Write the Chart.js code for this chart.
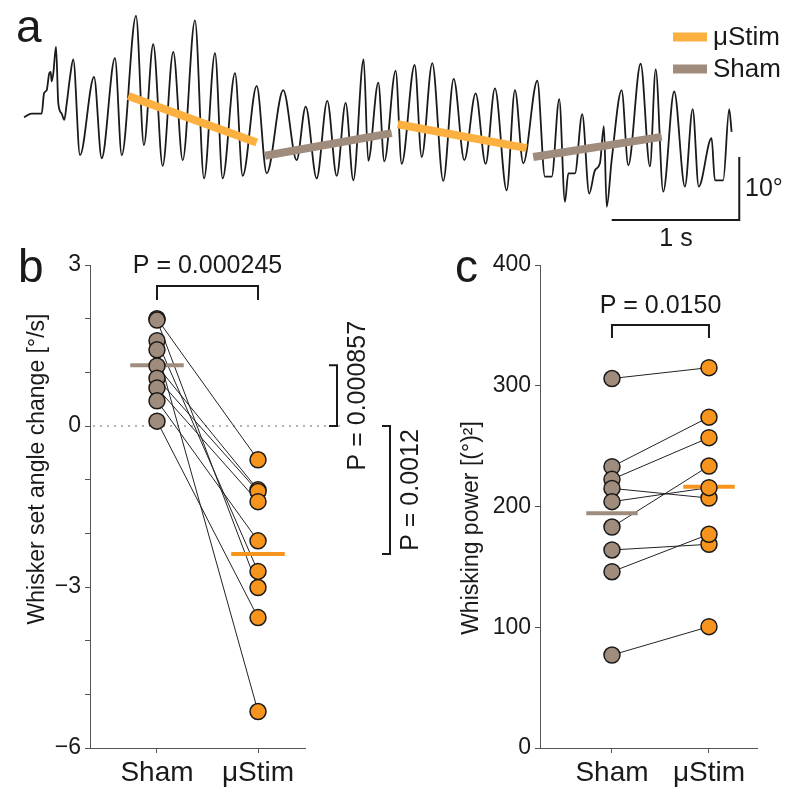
<!DOCTYPE html>
<html>
<head>
<meta charset="utf-8">
<script src="https://cdn.jsdelivr.net/npm/chart.js@4.4.1/dist/chart.umd.min.js"></script>
<style>
  html, body { margin: 0; padding: 0; background: #fff; }
  #wrap { position: relative; width: 800px; height: 802px; }
  canvas { position: absolute; left: 0; top: 0; }
</style>
</head>
<body>
<div id="wrap">
  <canvas id="traceChart" width="800" height="802"></canvas>
  <canvas id="setChart" width="800" height="802"></canvas>
  <canvas id="powerChart" width="800" height="802"></canvas>
</div>
<script>
// ===== Data =====

// Panel a: whisker angle trace (time in s, angle in deg), peaks and troughs
const traceTime = [0.000, 0.060, 0.139, 0.157, 0.178, 0.198, 0.209, 0.217, 0.230, 0.251,
  0.269, 0.295, 0.316, 0.335, 0.361, 0.386, 0.439, 0.549, 0.609, 0.713,
  0.766, 0.878, 0.940, 1.013, 1.087, 1.170, 1.244, 1.340, 1.411, 1.497,
  1.557, 1.654, 1.714, 1.824, 1.902, 2.032, 2.137, 2.208, 2.294, 2.377,
  2.451, 2.521, 2.581, 2.662, 2.698, 2.777, 2.824, 2.913, 2.960, 3.062,
  3.117, 3.200, 3.286, 3.368, 3.451, 3.540, 3.618, 3.691, 3.783, 3.848,
  3.913, 4.023, 4.083, 4.136, 4.195, 4.240, 4.266, 4.318, 4.375, 4.430,
  4.475, 4.514, 4.545, 4.567, 4.606, 4.684, 4.736, 4.833, 4.906, 4.951,
  5.010, 5.096, 5.180, 5.241, 5.288, 5.389, 5.415, 5.480, 5.527, 5.546];
const traceAngle = [16.3, 16.9, 16.9, 20.1, 20.6, 23.3, 23.5, 22.0, 23.3, 27.5,
  18.5, 16.9, 15.9, 18.5, 22.7, 25.5, 10.3, 22.7, 9.8, 25.7,
  10.3, 32.4, 11.9, 27.9, 8.6, 26.7, 9.5, 31.7, 6.6, 26.5,
  6.6, 23.3, 7.0, 21.3, 7.4, 20.6, 9.5, 18.0, 6.6, 18.9,
  7.0, 18.6, 6.3, 25.5, 9.4, 21.8, 9.3, 23.7, 8.9, 24.6,
  10.0, 24.9, 6.2, 22.4, 9.5, 20.1, 8.9, 20.9, 4.7, 20.6,
  9.0, 22.1, 6.9, 6.9, 19.2, 2.9, 7.4, 7.4, 16.8, 4.2,
  7.9, 9.0, 14.9, 2.1, 9.5, 20.6, 8.7, 24.8, 8.5, 23.9,
  4.5, 20.4, 5.3, 17.6, 5.3, 13.0, 6.3, 6.3, 17.6, 14.0];

// Panel a: set-angle fits per epoch [start, end]
const stimFitTime = [[0.817, 1.824], [2.929, 3.940]];
const stimFitAngle = [[19.7, 12.3], [15.2, 11.4]];
const shamFitTime = [[1.889, 2.882], [3.991, 4.998]];
const shamFitAngle = [[10.2, 13.8], [10.0, 13.2]];

// Panels b and c
const groups = ['Sham', 'μStim'];
const setSham = [2.00, 1.975, 1.59, 1.42, 1.12, 0.89, 0.71, 0.47, 0.09];
const setStim = [-0.63, -3.01, -2.71, -5.32, -1.19, -1.22, -1.41, -2.14, -3.57];
const setMean = [1.13, -2.385];
const setTicks = [-6, -3, 0, 3];

const powSham = [306, 233, 222.5, 215, 204, 183, 164, 146, 77];
const powStim = [315, 274, 257, 207, 215.6, 233.5, 168.7, 177, 100.5];
const powMean = [194.4, 216.4];
const powTicks = [0, 100, 200, 300, 400];

// ===== Style =====
const FONT = "'Liberation Sans', Arial, sans-serif";
const SHAM = '#a08c7c';
const STIM = '#f7941d';
const STIM_LIGHT = '#fbb040';
const INK = '#1a1a1a';

Chart.defaults.font.family = FONT;
Chart.defaults.color = INK;

function fitDataset(times, angles, color) {
    return {
        data: times.map((t, i) => ({ x: t, y: angles[i] })),
        showLine: true, borderColor: color, borderWidth: 8,
        borderCapStyle: 'butt', pointRadius: 0, order: 0
    };
}

// ===== Panel a =====
const traceExtras = {
    id: 'traceExtras',
    afterDraw(chart) {
        const ctx = chart.ctx;
        ctx.save();
        ctx.fillStyle = INK;
        ctx.font = `46px ${FONT}`;
        ctx.fillText('a', 16, 42);

        ctx.lineWidth = 9;
        ctx.strokeStyle = STIM_LIGHT;
        ctx.beginPath(); ctx.moveTo(673, 37); ctx.lineTo(707, 37); ctx.stroke();
        ctx.strokeStyle = SHAM;
        ctx.beginPath(); ctx.moveTo(673, 69); ctx.lineTo(707, 69); ctx.stroke();

        ctx.font = `26px ${FONT}`;
        ctx.textBaseline = 'middle';
        ctx.fillText('μStim', 713, 38);
        ctx.fillText('Sham', 713, 70);

        ctx.font = `25px ${FONT}`;
        ctx.fillText('10°', 745, 189);
        ctx.textAlign = 'center';
        ctx.fillText('1 s', 676, 239);
        ctx.restore();
    }
};

new Chart(document.getElementById('traceChart'), {
    type: 'scatter',
    data: {
        datasets: [
            fitDataset(stimFitTime[0], stimFitAngle[0], STIM_LIGHT),
            fitDataset(stimFitTime[1], stimFitAngle[1], STIM_LIGHT),
            fitDataset(shamFitTime[0], shamFitAngle[0], SHAM),
            fitDataset(shamFitTime[1], shamFitAngle[1], SHAM),
            {
                data: traceTime.map((t, i) => ({ x: t, y: traceAngle[i] })),
                showLine: true, borderColor: INK, borderWidth: 1.8,
                pointRadius: 0, cubicInterpolationMode: 'monotone', order: 1
            },
            {
                // scale bar: 1 s, 10 deg
                data: [{ x: 4.606, y: 0 }, { x: 5.606, y: 0 }, { x: 5.606, y: 10 }],
                showLine: true, borderColor: INK, borderWidth: 2,
                pointRadius: 0, order: 0
            }
        ]
    },
    options: {
        responsive: false,
        animation: false,
        layout: { padding: { bottom: 552 } },
        plugins: { legend: { display: false }, tooltip: { enabled: false } },
        scales: {
            x: { type: 'linear', display: false, min: -0.188, max: 6.082 },
            y: { display: false, min: -4.76, max: 34.92 }
        }
    },
    plugins: [traceExtras]
});

// ===== Paired scatter helper =====
function pairedDatasets(sham, stim, mean, halfWidth, lineColor) {
    const sets = [];
    sham.forEach((v, i) => {
        sets.push({
            data: [{ x: 0, y: v }, { x: 1, y: stim[i] }],
            showLine: true, borderColor: lineColor, borderWidth: 1,
            pointRadius: 0, order: 3
        });
    });
    sets.push({
        data: [{ x: -halfWidth, y: mean[0] }, { x: halfWidth, y: mean[0] }],
        showLine: true, borderColor: SHAM, borderWidth: 4, pointRadius: 0, order: 2
    });
    sets.push({
        data: [{ x: 1 - halfWidth, y: mean[1] }, { x: 1 + halfWidth, y: mean[1] }],
        showLine: true, borderColor: STIM, borderWidth: 4, pointRadius: 0, order: 2
    });
    sets.push({
        data: sham.map(v => ({ x: 0, y: v })),
        pointRadius: 8, pointBackgroundColor: SHAM, pointBorderColor: INK,
        pointBorderWidth: 1.5, order: 1
    });
    sets.push({
        data: stim.map(v => ({ x: 1, y: v })),
        pointRadius: 8, pointBackgroundColor: STIM, pointBorderColor: INK,
        pointBorderWidth: 1.5, order: 1
    });
    return sets;
}

function pairedOptions(opts) {
    return {
        responsive: false,
        animation: false,
        layout: { padding: { top: 265, right: opts.right, left: 0, bottom: 0 } },
        plugins: { legend: { display: false }, tooltip: { enabled: false } },
        scales: {
            x: {
                type: 'linear', min: opts.xMin, max: opts.xMax,
                afterBuildTicks: s => { s.ticks = [{ value: 0 }, { value: 1 }]; },
                afterFit: s => { s.height = 802 - 748; },
                ticks: { callback: v => groups[v], font: { size: 28 }, padding: 3, color: INK },
                grid: { drawOnChartArea: false, tickLength: 5, color: '#555' },
                border: { color: '#555', width: 1 }
            },
            y: {
                min: opts.yMin, max: opts.yMax,
                ticks: {
                    stepSize: opts.step, padding: 4, color: INK, font: { size: 23 },
                    autoSkip: false,
                    callback: v => opts.labels.includes(v) ? String(v).replace('-', '\u2212') : ''
                },
                afterFit: s => { s.width = opts.axisX; },
                grid: { drawOnChartArea: false, tickLength: 5, color: '#555' },
                border: { color: '#555', width: 1 }
            }
        }
    };
}

function bracketTop(ctx, x0, x1, yTop, yLeg, label, textY) {
    ctx.beginPath();
    ctx.moveTo(x0, yLeg); ctx.lineTo(x0, yTop); ctx.lineTo(x1, yTop); ctx.lineTo(x1, yLeg);
    ctx.stroke();
    ctx.textAlign = 'center';
    ctx.textBaseline = 'middle';
    ctx.fillText(label, (x0 + x1) / 2, textY);
}

function bracketSide(ctx, xLine, yA, yB, label, textX) {
    ctx.beginPath();
    ctx.moveTo(xLine - 8, yA); ctx.lineTo(xLine, yA); ctx.lineTo(xLine, yB); ctx.lineTo(xLine - 8, yB);
    ctx.stroke();
    ctx.save();
    ctx.translate(textX, (yA + yB) / 2);
    ctx.rotate(-Math.PI / 2);
    ctx.textAlign = 'center';
    ctx.textBaseline = 'middle';
    ctx.fillText(label, 0, 0);
    ctx.restore();
}

function rotatedTitle(ctx, text, cx, cy) {
    ctx.save();
    ctx.translate(cx, cy);
    ctx.rotate(-Math.PI / 2);
    ctx.textAlign = 'center';
    ctx.textBaseline = 'middle';
    ctx.fillText(text, 0, 0);
    ctx.restore();
}

// ===== Panel b =====
const setExtras = {
    id: 'setExtras',
    beforeDatasetsDraw(chart) {
        const { ctx, scales: { x, y } } = chart;
        const y0 = y.getPixelForValue(0);
        ctx.save();
        ctx.strokeStyle = '#9a9a9a';
        ctx.lineWidth = 1.5;
        ctx.setLineDash([2, 5]);
        ctx.beginPath(); ctx.moveTo(x.left + 3, y0); ctx.lineTo(345, y0); ctx.stroke();
        ctx.restore();
    },
    afterDraw(chart) {
        const { ctx, scales: { x, y } } = chart;
        ctx.save();
        ctx.fillStyle = INK;
        ctx.strokeStyle = INK;
        ctx.lineWidth = 2;
        ctx.font = `46px ${FONT}`;
        ctx.fillText('b', 18, 282);

        ctx.font = `25px ${FONT}`;
        bracketTop(ctx, x.getPixelForValue(0), x.getPixelForValue(1), 286, 300, 'P = 0.000245', 266);
        const yS = y.getPixelForValue(setMean[0]);
        const y0 = y.getPixelForValue(0);
        const yU = y.getPixelForValue(setMean[1]);
        bracketSide(ctx, 337, yS, y0, 'P = 0.000857', 358);
        bracketSide(ctx, 390, y0, yU, 'P = 0.0012', 411);

        ctx.font = `23px ${FONT}`;
        rotatedTitle(ctx, 'Whisker set angle change [°/s]', 38, 469);
        ctx.restore();
    }
};

new Chart(document.getElementById('setChart'), {
    type: 'scatter',
    data: { datasets: pairedDatasets(setSham, setStim, setMean, 0.265, '#222') },
    options: pairedOptions({
        right: 800 - 305, axisX: 90, xMin: -0.663, xMax: 1.465,
        yMin: -6, yMax: 3, step: 1, labels: setTicks
    }),
    plugins: [setExtras]
});

// ===== Panel c =====
const powerExtras = {
    id: 'powerExtras',
    afterDraw(chart) {
        const { ctx, scales: { x } } = chart;
        ctx.save();
        ctx.fillStyle = INK;
        ctx.strokeStyle = INK;
        ctx.lineWidth = 2;
        ctx.font = `46px ${FONT}`;
        ctx.fillText('c', 455, 282);

        ctx.font = `25px ${FONT}`;
        bracketTop(ctx, x.getPixelForValue(0), x.getPixelForValue(1), 325, 338, 'P = 0.0150', 306);

        ctx.font = `23px ${FONT}`;
        rotatedTitle(ctx, 'Whisking power [(°)²]', 472, 528);
        ctx.restore();
    }
};

new Chart(document.getElementById('powerChart'), {
    type: 'scatter',
    data: { datasets: pairedDatasets(powSham, powStim, powMean, 0.265, '#222') },
    options: pairedOptions({
        right: 800 - 757, axisX: 540, xMin: -0.742, xMax: 1.495,
        yMin: 0, yMax: 400, step: 100, labels: powTicks
    }),
    plugins: [powerExtras]
});
</script>
</body>
</html>
